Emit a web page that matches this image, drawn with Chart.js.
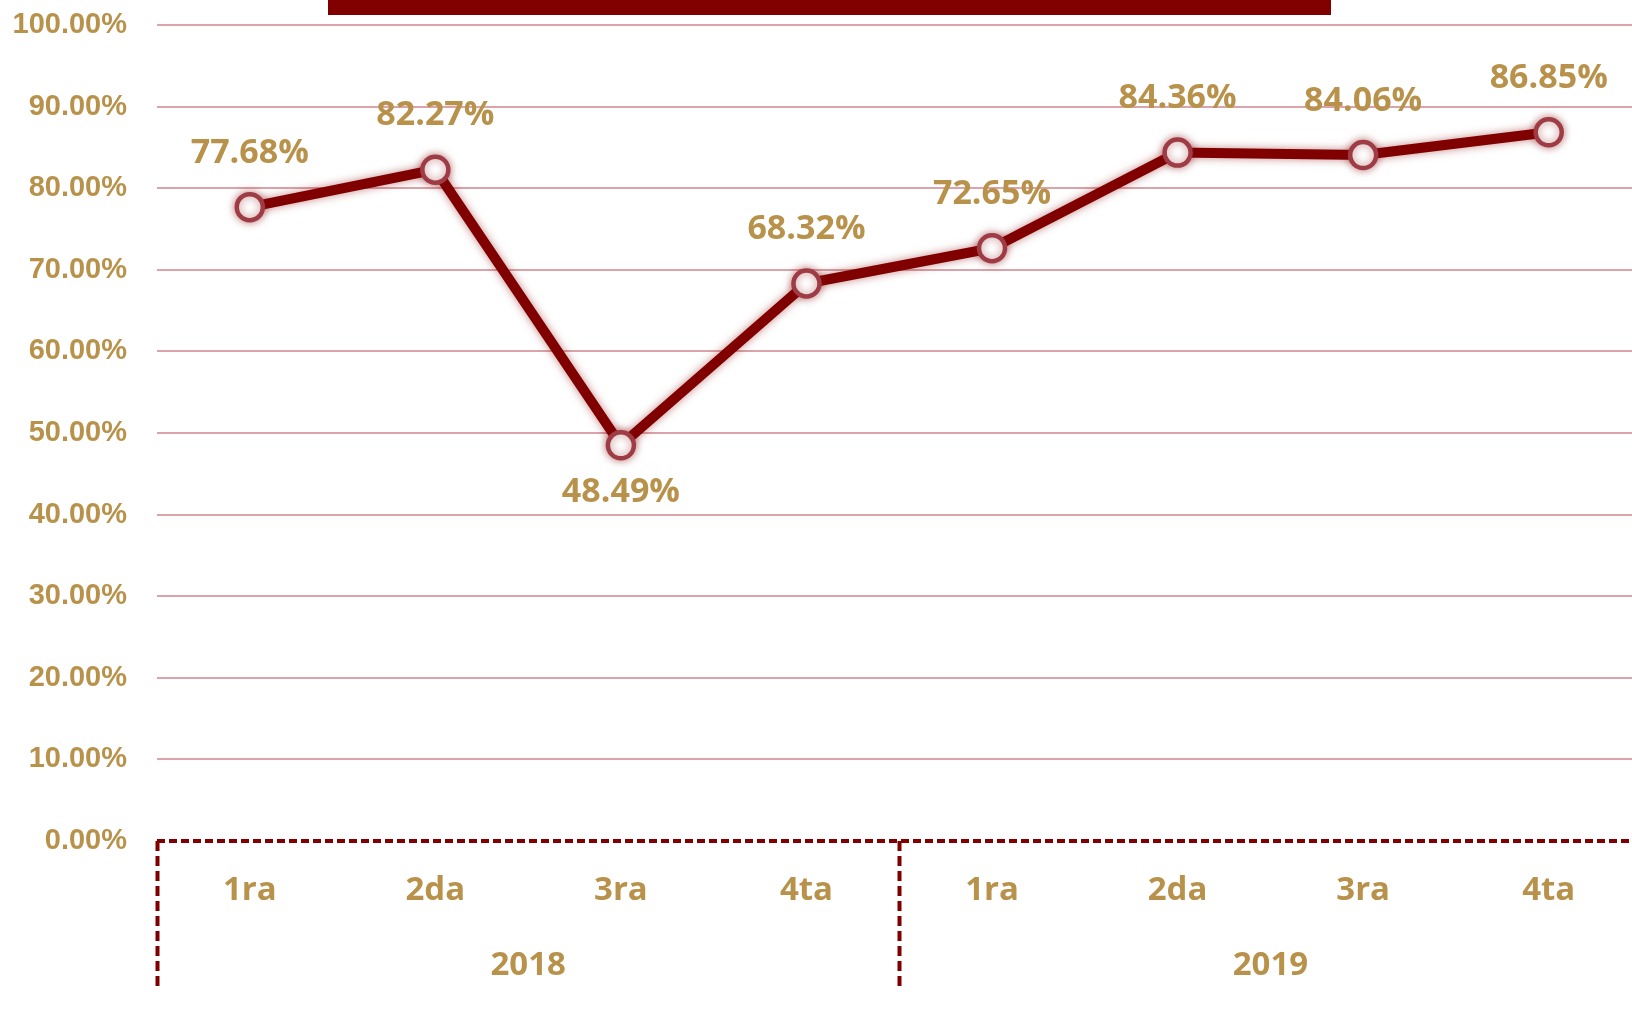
<!DOCTYPE html>
<html><head><meta charset="utf-8">
<script src="https://cdn.jsdelivr.net/npm/chart.js@4/dist/chart.umd.min.js"></script>
<style>
html,body{margin:0;padding:0;overflow:hidden;background:#fff;}
#wrap{position:relative;width:1659px;height:1017px;}
#bar{position:absolute;left:328px;top:0;width:1003px;height:15px;background:#800000;}
</style></head><body>
<div id="wrap"><canvas id="c"></canvas><div id="bar"></div></div>
<script>
const quarters = ['1ra','2da','3ra','4ta','1ra','2da','3ra','4ta'];
const years = ['2018','2019'];
const values = [77.68, 82.27, 48.49, 68.32, 72.65, 84.36, 84.06, 86.85];
const labelSide = ['above','above','below','above','above','above','above','above'];
const yMin = 0, yMax = 100, yStep = 10;

const gold = '#B8924A';
const darkRed = '#800000';
const pink = '#DBA4AA';

const glow = {
  id: 'glow',
  beforeDatasetDraw(chart) { const c = chart.ctx; c.save(); c.shadowColor = 'rgba(140,20,20,0.5)'; c.shadowBlur = 9; },
  afterDatasetDraw(chart) { chart.ctx.restore(); }
};
const valueLabels = {
  id: 'valueLabels',
  afterDatasetsDraw(chart) {
    const ctx = chart.ctx, meta = chart.getDatasetMeta(0), data = chart.data.datasets[0].data;
    ctx.save();
    ctx.font = 'bold 34px "Open Sans"';
    ctx.fillStyle = gold; ctx.textAlign = 'center'; ctx.textBaseline = 'middle';
    meta.data.forEach((pt, i) => {
      const dy = labelSide[i] === 'below' ? 47 : -54;
      ctx.fillText(data[i].toFixed(2) + '%', pt.x, pt.y + dy);
    });
    ctx.restore();
  }
};

new Chart(document.getElementById('c'), {
  type: 'line',
  data: {
    labels: quarters,
    datasets: [{
      data: values,
      borderColor: darkRed,
      borderWidth: 10,
      tension: 0,
      pointRadius: 13,
      pointHoverRadius: 13,
      pointBackgroundColor: '#ffffff',
      pointBorderColor: '#9E3B44',
      pointBorderWidth: 4.5
    }]
  },
  options: {
    responsive: true,
    maintainAspectRatio: false,
    animation: false,
    layout: { padding: { top: 25, right: 7, left: 0, bottom: 0 } },
    plugins: { legend: { display: false }, tooltip: { enabled: false }, title: { display: false } },
    scales: {
      x: {
        type: 'category',
        position: 'bottom',
        offset: true,
        grid: { display: false, drawTicks: false },
        border: { display: false },
        ticks: { color: gold, font: { family: '"Open Sans"', weight: 'bold', size: 33 }, padding: 30, maxRotation: 0, autoSkip: false },
        afterFit(s) { s.height = 176; s.paddingLeft = 0; s.paddingRight = 0; }
      },
      x2: {
        type: 'category',
        labels: years,
        position: { y: 0 },
        offset: true,
        grid: { offset: true, drawOnChartArea: false, drawTicks: true, tickLength: 146, tickColor: darkRed, tickWidth: 4, tickBorderDash: [10, 5] },
        border: { display: false },
        ticks: { color: gold, font: { family: '"Open Sans"', weight: 'bold', size: 33 }, padding: -41, maxRotation: 0 }
      },
      y: {
        min: yMin, max: yMax,
        ticks: {
          stepSize: yStep,
          color: gold,
          font: { family: '"Liberation Sans"', weight: 'bold', size: 29 },
          padding: 30,
          callback: v => v.toFixed(2) + '%'
        },
        grid: {
          drawTicks: false,
          color: c => c.tick && c.tick.value === 0 ? darkRed : pink,
          lineWidth: c => c.tick && c.tick.value === 0 ? 4 : 2
        },
        border: { display: false, dash: c => c.tick && c.tick.value === 0 ? [8, 4] : [] },
        afterFit(s) { s.width = 157; s.paddingTop = 0; s.paddingBottom = 0; }
      }
    }
  },
  plugins: [glow, valueLabels]
});
</script>
</body></html>
